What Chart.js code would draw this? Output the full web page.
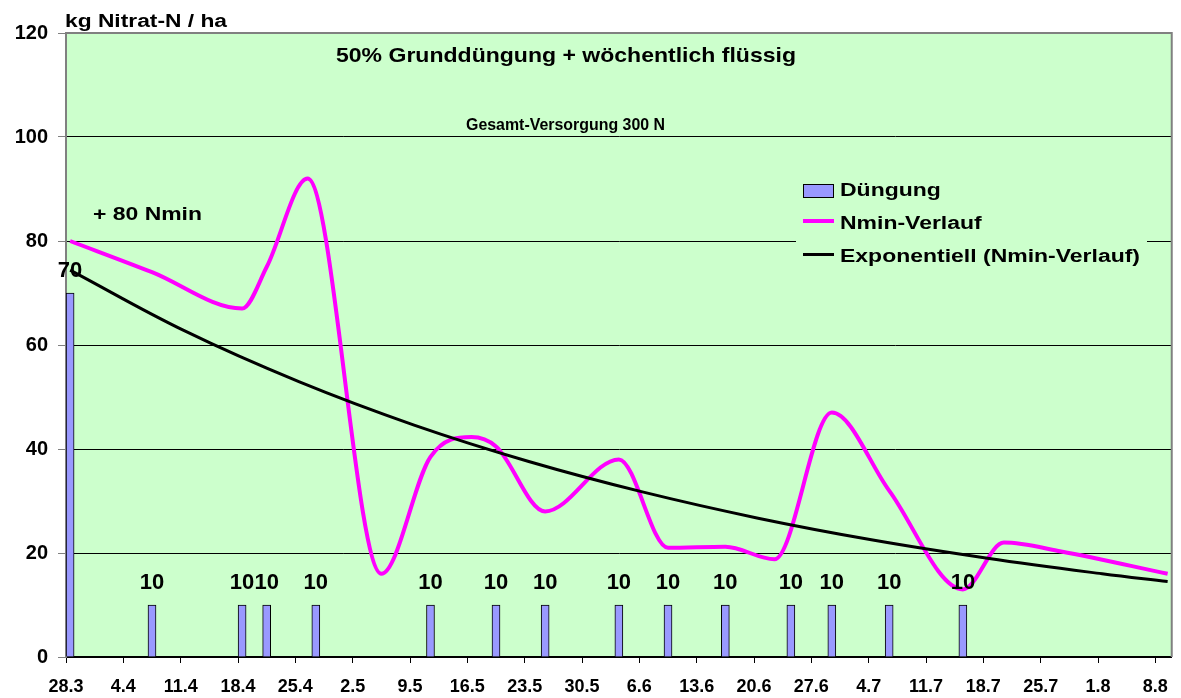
<!DOCTYPE html>
<html><head><meta charset="utf-8">
<script src="https://cdn.jsdelivr.net/npm/chart.js@4.4.0/dist/chart.umd.min.js"></script>
<style>html,body{margin:0;padding:0;background:#fff}</style>
</head><body>
<canvas id="c" width="1181" height="698"></canvas>
<script>
// ---- data ----
const tickLabels = ['28.3','4.4','11.4','18.4','25.4','2.5','9.5','16.5','23.5','30.5','6.6','13.6','20.6','27.6','4.7','11.7','18.7','25.7','1.8','8.8'];
const yTicks = [0,20,40,60,80,100,120];
// fertiliser applications (day offset from 28.3, kg N/ha)
const fertDays   = [0,10,21,24,30,44,52,58,67,73,80,88,93,100,109];
const fertValues = [70,10,10,10,10,10,10,10,10,10,10,10,10,10,10];
// Nmin course (day offset, kg Nitrat-N/ha)
const nminDays   = [0,10,21,24,29,38,44,49,52,58,67,73,80,86,93,100,109,114,121,134];
const nminValues = [80,74,67,75,92,16,38.5,42.3,40.5,28,38,21,21.2,18.8,47,32,13,22,20.3,16];
// exponential trend line (read values)
const trendDays   = [0,14,28,42,56,70,84,98,112,126,134];
const trendValues = [74.4,62.7,52.9,44.6,37.6,31.7,26.7,22.5,19.0,16.0,14.5];

const titleText = '50% Grunddüngung + wöchentlich flüssig';
const subTitleText = 'Gesamt-Versorgung 300 N';
const yTitleText = 'kg Nitrat-N / ha';
const noteText = '+ 80 Nmin';
const legendLabels = ['Düngung','Nmin-Verlauf','Exponentiell (Nmin-Verlauf)'];

const FONT = "'Liberation Sans', Arial, sans-serif";
const BG = '#CCFFCC';
const BAR = '#9999FF';
const PINK = '#FF00FF';

const toPts = (d, v) => d.map((x, i) => ({x: x + 0.5, y: v[i]}));

function fitText(ctx, text, x, y, size, sx, align) {
  ctx.save();
  ctx.font = 'bold ' + size + 'px ' + FONT;
  ctx.translate(x, y);
  ctx.scale(sx, 1);
  ctx.textAlign = align;
  ctx.fillText(text, 0, 0);
  ctx.restore();
}
function scaleFor(ctx, text, size, width) {
  ctx.save();
  ctx.font = 'bold ' + size + 'px ' + FONT;
  const w = ctx.measureText(text).width;
  ctx.restore();
  return width / w;
}

const decor = {
  id: 'decor',
  beforeDraw(chart) {
    const {ctx, chartArea: a} = chart;
    ctx.save();
    ctx.fillStyle = BG;
    ctx.fillRect(a.left, a.top, a.right - a.left, a.bottom - a.top);
    ctx.restore();
  },
  beforeDatasetsDraw(chart) {
    const {ctx, chartArea: a} = chart;
    ctx.save();
    ctx.strokeStyle = '#808080';
    ctx.lineWidth = 2;
    ctx.beginPath();
    ctx.moveTo(a.left, a.top); ctx.lineTo(a.right, a.top); ctx.lineTo(a.right, a.bottom);
    ctx.stroke();
    ctx.restore();
  },
  afterDatasetsDraw(chart) {
    const {ctx} = chart;
    ctx.save();
    const meta = chart.getDatasetMeta(2);
    ctx.fillStyle = '#000';
    ctx.font = "bold 22px " + FONT;
    ctx.textAlign = 'center';
    ctx.textBaseline = 'middle';
    meta.data.forEach((el, i) => {
      ctx.fillText(String(fertValues[i]), el.x, el.y - 22);
    });
    ctx.restore();
  },
  afterDraw(chart) {
    const {ctx} = chart;
    ctx.save();
    ctx.fillStyle = '#000';
    ctx.textBaseline = 'alphabetic';
    fitText(ctx, titleText, 566, 62, 21, scaleFor(ctx, titleText, 21, 460), 'center');
    fitText(ctx, subTitleText, 565.5, 129.5, 17, scaleFor(ctx, subTitleText, 17, 199), 'center');
    fitText(ctx, yTitleText, 65, 27, 18, scaleFor(ctx, yTitleText, 18, 162), 'left');
    fitText(ctx, noteText, 93, 219.5, 18, scaleFor(ctx, noteText, 18, 109), 'left');
    // legend
    ctx.fillStyle = BG;
    ctx.fillRect(796, 168, 351, 104);
    ctx.fillStyle = BAR;
    ctx.fillRect(803, 184, 30, 13);
    ctx.strokeStyle = '#000';
    ctx.lineWidth = 1;
    ctx.strokeRect(803.5, 184.5, 30, 13);
    ctx.strokeStyle = PINK;
    ctx.lineWidth = 4;
    ctx.beginPath(); ctx.moveTo(803, 221); ctx.lineTo(834, 221); ctx.stroke();
    ctx.strokeStyle = '#000';
    ctx.lineWidth = 3;
    ctx.beginPath(); ctx.moveTo(803, 254.5); ctx.lineTo(834, 254.5); ctx.stroke();
    ctx.fillStyle = '#000';
    ctx.textBaseline = 'middle';
    const ls = scaleFor(ctx, legendLabels[2], 18, 300);
    fitText(ctx, legendLabels[0], 840, 191, 18, ls, 'left');
    fitText(ctx, legendLabels[1], 840, 224, 18, ls, 'left');
    fitText(ctx, legendLabels[2], 840, 257, 18, ls, 'left');
    ctx.restore();
  }
};

new Chart(document.getElementById('c'), {
  type: 'bar',
  data: {
    datasets: [
      {
        type: 'line', label: legendLabels[2], data: toPts(trendDays, trendValues),
        borderColor: '#000', borderWidth: 3, pointRadius: 0, tension: 0.4, order: 0
      },
      {
        type: 'line', label: legendLabels[1], data: toPts(nminDays, nminValues),
        borderColor: PINK, borderWidth: 4, pointRadius: 0,
        cubicInterpolationMode: 'monotone', order: 1
      },
      {
        type: 'bar', label: legendLabels[0], data: toPts(fertDays, fertValues),
        backgroundColor: BAR, borderColor: '#000', borderWidth: 1,
        barThickness: 8, order: 2
      }
    ]
  },
  options: {
    responsive: false,
    animation: false,
    events: [],
    layout: {padding: {left: 0, right: 9, top: 33, bottom: 0}},
    plugins: {legend: {display: false}, tooltip: {enabled: false}, title: {display: false}},
    scales: {
      x: {
        type: 'linear', min: 0, max: 135, offset: false,
        afterBuildTicks: s => { s.ticks = tickLabels.map((_, i) => ({value: i * 7})); },
        afterFit: s => { s.height = 41; },
        ticks: {
          autoSkip: false, maxRotation: 0, padding: 13,
          color: '#000', font: {family: FONT, size: 18, weight: 'bold'},
          callback: (v) => tickLabels[Math.round(v / 7)]
        },
        grid: {offset: false, drawOnChartArea: false, drawTicks: true, tickLength: 6, color: '#000', lineWidth: 1},
        border: {color: '#000', width: 2}
      },
      y: {
        min: 0, max: 120,
        afterBuildTicks: s => { s.ticks = yTicks.map(v => ({value: v})); },
        afterFit: s => { s.width = 66; },
        ticks: {
          padding: 10, color: '#000', font: {family: FONT, size: 20, weight: 'bold'}
        },
        grid: {color: '#000', lineWidth: 1, tickLength: 8, tickColor: '#808080'},
        border: {color: '#808080', width: 2}
      }
    }
  },
  plugins: [decor]
});
</script>
</body></html>
